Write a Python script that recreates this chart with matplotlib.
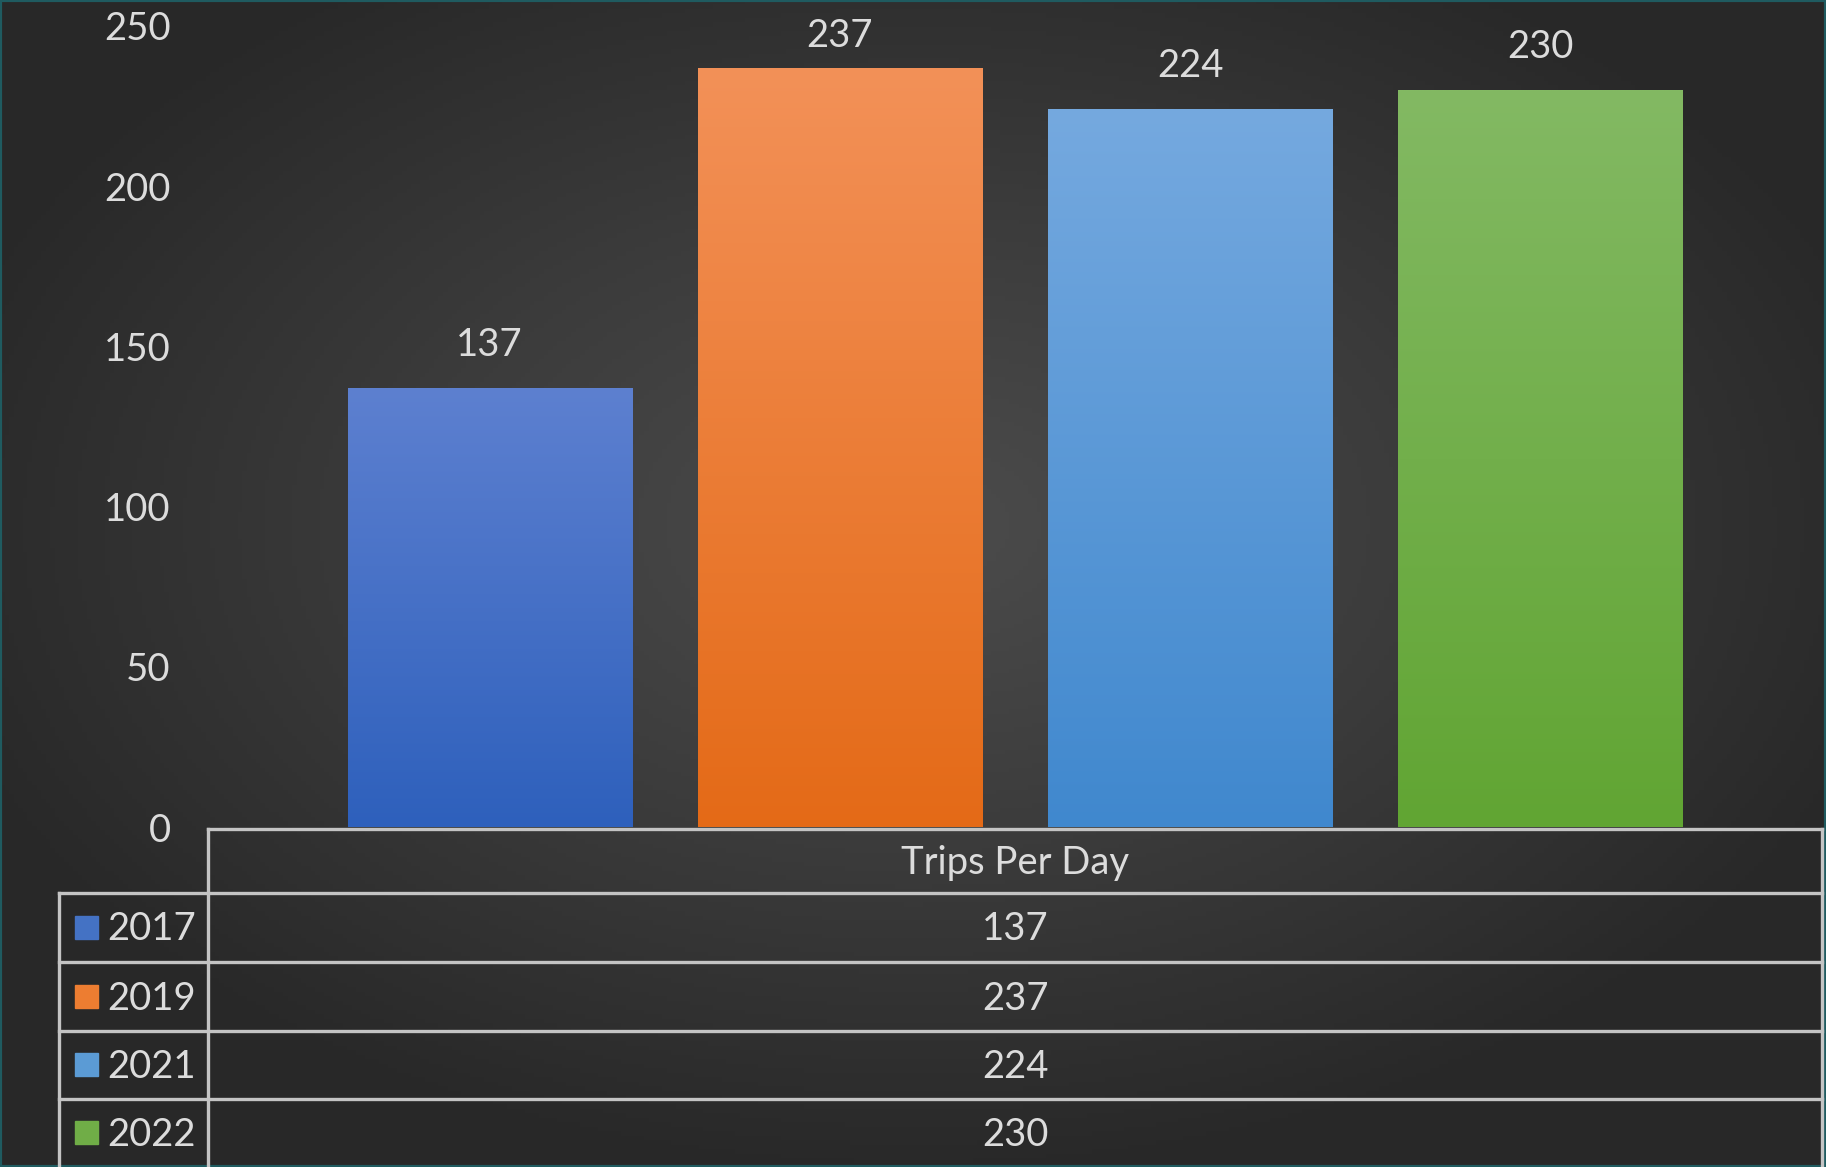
import numpy as np
import matplotlib.pyplot as plt
from matplotlib.lines import Line2D
from matplotlib.patches import Rectangle
from matplotlib.colors import LinearSegmentedColormap

category = "Trips Per Day"
years = ["2017", "2019", "2021", "2022"]
trips = [137, 237, 224, 230]
y_ticks = [0, 50, 100, 150, 200, 250]

# top / bottom colour of each bar gradient
bar_top = ["#5d80d0", "#f39158", "#75a9df", "#83b963"]
bar_bottom = ["#2e60bc", "#e46a17", "#4088ce", "#61a533"]
legend_colors = ["#4472c4", "#ed7d31", "#5b9bd5", "#70ad47"]

txt_color = "#dcdcdc"
line_color = "#c4c4c4"
fsize = 27.5
plt.rcParams['font.family'] = ['Lato', 'DejaVu Sans']

W, H = 1826, 1167
fig = plt.figure(figsize=(W / 100, H / 100), dpi=100)

# radial background
bg = fig.add_axes([0, 0, 1, 1])
xx, yy = np.meshgrid(np.linspace(0, 1, 400), np.linspace(0, 1, 260))
r = np.sqrt(((xx - 0.5) / 0.75) ** 2 + ((yy - 0.45) / 0.75) ** 2)
r = np.clip(r / 0.75, 0, 1)
bg_cmap = LinearSegmentedColormap.from_list("bg", ["#4c4c4c", "#3b3b3b", "#282828"])
bg.imshow(r, cmap=bg_cmap, extent=(0, 1, 0, 1), aspect='auto', origin='upper')
bg.set_xlim(0, 1)
bg.set_ylim(0, 1)
bg.axis('off')
bg.add_patch(Rectangle((0, 0), 1, 1, transform=bg.transAxes, fill=False,
                       edgecolor="#1f5b60", linewidth=3))


def px(x, y):
    return x / W, 1 - y / H


left, right, y0, y250 = 208, 1822, 827, 26
ax = fig.add_axes([left / W, (H - y0) / H, (right - left) / W, (y0 - y250) / H])
ax.set_facecolor('none')

width = 0.176
offsets = [-0.3255, -0.1085, 0.1085, 0.3255]
bars = ax.bar(offsets, trips, width=width, color=legend_colors, zorder=2)
for b, top, bot in zip(bars, bar_top, bar_bottom):
    cm = LinearSegmentedColormap.from_list("g", [bot, top])
    grad = np.linspace(0, 1, 256).reshape(-1, 1)
    x0 = b.get_x()
    h = b.get_height()
    im = ax.imshow(grad, cmap=cm, origin='lower', aspect='auto', zorder=3,
                   extent=(x0, x0 + b.get_width(), 0, h))
    im.set_clip_path(b)
    # label sits above the bar, but is kept inside the chart area
    ly = min(h + 14.5, 248.0)
    ax.text(x0 + b.get_width() / 2, ly, str(int(h)), ha='center', va='center_baseline',
            color=txt_color, fontsize=fsize, zorder=4, clip_on=False)
ax.set_xlim(-0.5, 0.5)
ax.set_ylim(0, 250)

ax.set_yticks(y_ticks)
ax.set_yticklabels([str(t) for t in y_ticks])
ax.tick_params(axis='y', length=0, pad=27, labelsize=fsize, labelcolor=txt_color)
ax.set_xticks([])
for s in ax.spines.values():
    s.set_visible(False)

# data table under the chart
rows_y = [829, 893, 962, 1031, 1099, 1167]
lab_left = 59


def hline(x1, x2, y):
    a, b = px(x1, y), px(x2, y)
    fig.add_artist(Line2D([a[0], b[0]], [a[1], b[1]], color=line_color, lw=2.4))


def vline(x, y1, y2):
    a, b = px(x, y1), px(x, y2)
    fig.add_artist(Line2D([a[0], b[0]], [a[1], b[1]], color=line_color, lw=2.4))


hline(left, right, rows_y[0])
for y in rows_y[1:-1]:
    hline(lab_left, right, y)
vline(left, rows_y[0], H)
vline(right, rows_y[0], H)
vline(lab_left, rows_y[1], H)

cx = (left + right) / 2
fig.text(*px(cx, (rows_y[0] + rows_y[1]) / 2 - 1.5), category, ha='center',
         va='center_baseline', color=txt_color, fontsize=fsize)
for i, (yr, v, c) in enumerate(zip(years, trips, legend_colors)):
    yc = (rows_y[i + 1] + rows_y[i + 2]) / 2
    fig.text(*px(cx, yc - 1.5), str(v), ha='center', va='center_baseline', color=txt_color,
             fontsize=fsize)
    sx, sy = px(75, yc + 11)
    fig.add_artist(Rectangle((sx, sy), 23 / W, 23 / H, color=c, transform=fig.transFigure))
    fig.text(*px(107, yc - 1.5), yr, ha='left', va='center_baseline', color=txt_color,
             fontsize=fsize)

fig.savefig("out.png", dpi=100)
